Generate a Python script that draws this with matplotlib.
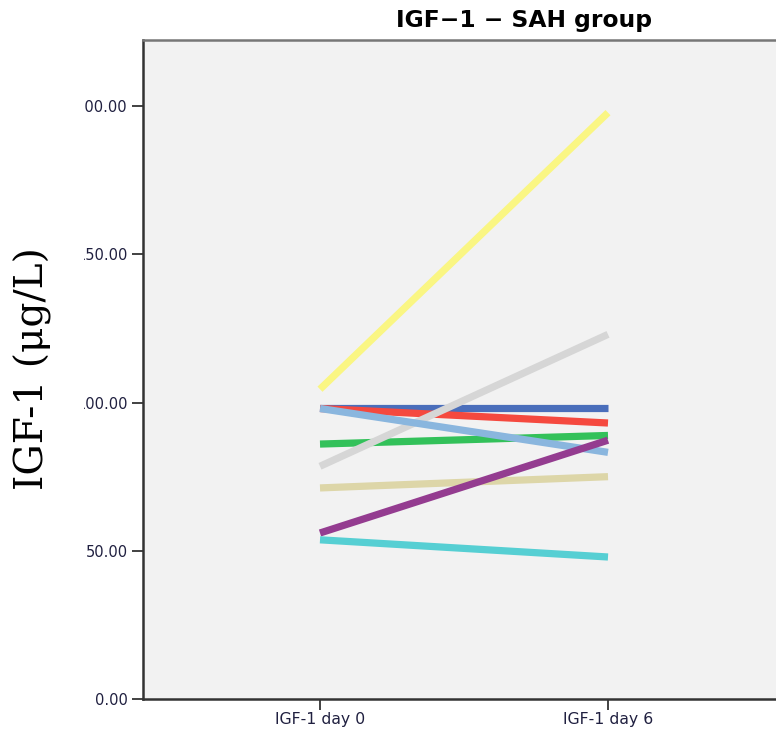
import matplotlib.pyplot as plt
from matplotlib.patches import Rectangle

# values (IGF-1, ug/L), in drawing order
categories = ["IGF-1 day 0", "IGF-1 day 6"]
day0 = [104.5, 98.0, 98.0, 86.0, 78.5, 71.2, 98.0, 56.0, 53.7]
day6 = [197.8, 98.0, 93.1, 88.9, 123.0, 75.0, 83.2, 87.3, 47.9]
colors = ["#faf683", "#4a6ebb", "#f5493f", "#33c15a", "#d6d6d6",
          "#ddd6a8", "#8ab6de", "#943c90", "#56cfd3"]
yticks = [0, 50, 100, 150, 200]

fig = plt.figure(figsize=(7.76, 7.32), dpi=100)
ax = fig.add_axes([143 / 776, 33 / 732, (785 - 143) / 776, 659 / 732])
ax.set_facecolor("#f2f2f2")

x = [0, 1]
for a, b, c in zip(day0, day6, colors):
    ax.plot(x, [a, b], color=c, lw=5.2, solid_capstyle="butt")

ax.set_xlim(-177 / 288, 1 + 177 / 288)
ax.set_ylim(0, 222.3)
ax.set_xticks(x)
ax.set_xticklabels(categories, fontsize=11.3, color="#202040")
ax.set_yticks(yticks)
ax.set_yticklabels(["%.2f" % v for v in yticks], fontsize=10.5, color="#202040")
ax.tick_params(axis="both", direction="out", length=8, width=1.3, color="#333333")
ax.tick_params(axis="y", pad=3)
ax.tick_params(axis="x", pad=1.5)

for s in ["left", "bottom", "top"]:
    ax.spines[s].set_linewidth(1.8)
    ax.spines[s].set_color("#333333")
ax.spines["top"].set_color("#777777")
ax.spines["right"].set_visible(False)

# white strip clipping the left of the tick labels, as in the source
fig.patches.append(Rectangle((0, 0), 84 / 776, 1, transform=fig.transFigure,
                             facecolor="white", edgecolor="none", zorder=5))

fig.text(33 / 776, 1 - 369 / 732, "IGF-1 (\u03bcg/L)", rotation=90,
         ha="center", va="center", fontsize=28.2, family="DejaVu Serif", zorder=6)
fig.text(524 / 776, 1 - 20 / 732, "IGF\u22121 \u2212 SAH group",
         ha="center", va="center", fontsize=16.8, fontweight="bold")

fig.savefig("out.png", dpi=100)
